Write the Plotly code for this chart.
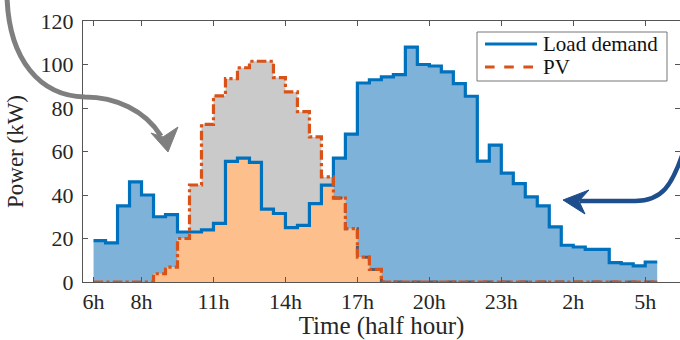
import numpy as np
import plotly.graph_objects as go

# ---------------- data ----------------
t_idx = list(range(1, 49))  # half-hour slots starting at 6h
tick_vals = [1, 5, 11, 17, 23, 29, 35, 41, 47]
tick_text = ["6h", "8h", "11h", "14h", "17h", "20h", "23h", "2h", "5h"]
y_ticks = [0, 20, 40, 60, 80, 100, 120]

load = [19, 18, 35, 46, 40, 30, 31, 23, 23, 24,
        27, 55.5, 57, 55, 33.5, 31.5, 25, 26, 36, 44.5,
        57, 68, 91.5, 93, 94.3, 95.3, 108, 100, 99.3, 96.6,
        91.2, 85.4, 55.6, 62.9, 50.1, 45.2, 39.1, 35, 25.3, 16.9,
        16.1, 15, 15, 8.9, 8.4, 7.4, 9.2, 9.2]

pv = [0, 0, 0, 0, 0, 3.8, 6.8, 20, 44.6, 72.5,
      85.6, 93.5, 98.5, 101.5, 101.5, 94, 87.4, 78.3, 66.7, 48.3,
      38.6, 24.5, 11.4, 5.8, 0, 0, 0, 0, 0, 0,
      0, 0, 0, 0, 0, 0, 0, 0, 0, 0,
      0, 0, 0, 0, 0, 0, 0, 0]

grey_from = 21  # slot where the grey dashed trace starts
legend_names = ["Load demand", "PV"]

# ---------------- styling ----------------
FONT = "Liberation Serif"
C_LOAD = "#0072BD"
C_PV = "#D95319"
C_BLUE_FILL = "#7EB2D8"
C_ORANGE_FILL = "#FDC08D"
C_GREY_FILL = "#CACACA"

x = np.array(t_idx)
ld = np.array(load)
p = np.array(pv)
both = np.minimum(ld, p)

fig = go.Figure()
# fills
fig.add_trace(go.Scatter(x=x, y=ld, mode="lines", line=dict(width=0, shape="hv"),
                         fill="tozeroy", fillcolor=C_BLUE_FILL, showlegend=False, hoverinfo="skip"))
fig.add_trace(go.Scatter(x=x, y=p, mode="lines", line=dict(width=0, shape="hv"),
                         fill="tozeroy", fillcolor=C_GREY_FILL, showlegend=False, hoverinfo="skip"))
fig.add_trace(go.Scatter(x=x, y=both, mode="lines", line=dict(width=0, shape="hv"),
                         fill="tozeroy", fillcolor=C_ORANGE_FILL, showlegend=False, hoverinfo="skip"))
# lines
gmask = x >= grey_from
fig.add_trace(go.Scatter(x=x[gmask], y=p[gmask], mode="lines",
                         line=dict(color="#5A5A66", width=3, dash="dash", shape="hv"),
                         showlegend=False, hoverinfo="skip"))
fig.add_trace(go.Scatter(x=x, y=ld, mode="lines", name=legend_names[0], showlegend=False,
                         line=dict(color=C_LOAD, width=3.2, shape="hv")))
fig.add_trace(go.Scatter(x=x, y=p, mode="lines", name=legend_names[1], showlegend=False,
                         line=dict(color=C_PV, width=3.2, dash="dashdot", shape="hv")))

# ---------------- decoration in pixel positions ----------------
L, R, T, B = 83, 680, 21, 282


def px(xp, yp):
    return (xp - L) / (R - L), (B - yp) / (B - T)


def P(xp, yp):
    a, b = px(xp, yp)
    return f"{a:.5f},{b:.5f}"


grey_curve = ("M " + P(7, -3) + " C " + P(9, 60) + " " + P(40, 96) + " " + P(85, 97) +
              " C " + P(115, 97) + " " + P(145, 110) + " " + P(161, 136))
grey_head = "M " + P(168, 152) + " L " + P(151, 133) + " L " + P(163, 137) + " L " + P(178, 127) + " Z"
blue_curve = ("M " + P(684, 150) + " C " + P(672, 186) + " " + P(662, 201) + " " + P(635, 201) +
              " L " + P(580, 201))
blue_head = "M " + P(563, 200) + " L " + P(589, 190) + " L " + P(579, 201) + " L " + P(585, 214) + " Z"

shapes = [
    dict(type="path", xref="paper", yref="paper", path=grey_curve,
         line=dict(color="#7F7F7F", width=5), layer="above"),
    dict(type="path", xref="paper", yref="paper", path=grey_head,
         line=dict(color="#7F7F7F", width=1), fillcolor="#7F7F7F", layer="above"),
    dict(type="path", xref="paper", yref="paper", path=blue_curve,
         line=dict(color="#1F4E8C", width=4.5), layer="above"),
    dict(type="path", xref="paper", yref="paper", path=blue_head,
         line=dict(color="#1F4E8C", width=1), fillcolor="#1F4E8C", layer="above"),
]

# manual legend box
x0, y0 = px(477, 81)
x1, y1 = px(667, 32)
shapes.append(dict(type="rect", xref="paper", yref="paper", x0=x0, y0=y0, x1=x1, y1=y1,
                   line=dict(color="#777777", width=1), fillcolor="white", layer="above"))
lx0, ly = px(485, 44)
lx1, _ = px(537, 44)
shapes.append(dict(type="line", xref="paper", yref="paper", x0=lx0, x1=lx1, y0=ly, y1=ly,
                   line=dict(color=C_LOAD, width=3.2), layer="above"))
lx0, ly2 = px(485, 67)
shapes.append(dict(type="line", xref="paper", yref="paper", x0=lx0, x1=lx1, y0=ly2, y1=ly2,
                   line=dict(color=C_PV, width=3.2, dash="dash"), layer="above"))
tx, _ = px(541, 0)
annotations = [
    dict(text=legend_names[0], xref="paper", yref="paper", x=tx, y=ly, xanchor="left",
         yanchor="middle", showarrow=False, font=dict(family=FONT, size=21, color="#111111")),
    dict(text=legend_names[1], xref="paper", yref="paper", x=tx, y=ly2, xanchor="left",
         yanchor="middle", showarrow=False, font=dict(family=FONT, size=21, color="#111111")),
]

axis_common = dict(showline=True, mirror="ticks", linecolor="#555555", linewidth=1,
                   ticks="inside", ticklen=5, tickcolor="#555555", showgrid=False,
                   zeroline=False, tickfont=dict(family=FONT, size=22, color="#262626"))

fig.update_layout(
    width=680, height=340,
    margin=dict(l=L, r=680 - R, t=T, b=340 - B),
    paper_bgcolor="white", plot_bgcolor="white",
    font=dict(family=FONT, color="#262626"),
    xaxis=dict(range=[0.12, 49.9], tickvals=tick_vals, ticktext=tick_text,
               title=dict(text="Time (half hour)", font=dict(family=FONT, size=25), standoff=2),
               **axis_common),
    yaxis=dict(range=[0, 120], tickvals=y_ticks, ticklabelstandoff=4,
               title=dict(text="Power (kW)", font=dict(family=FONT, size=23), standoff=10),
               **axis_common),
    shapes=shapes,
    annotations=annotations,
    showlegend=False,
)

fig.write_html("out.html")
